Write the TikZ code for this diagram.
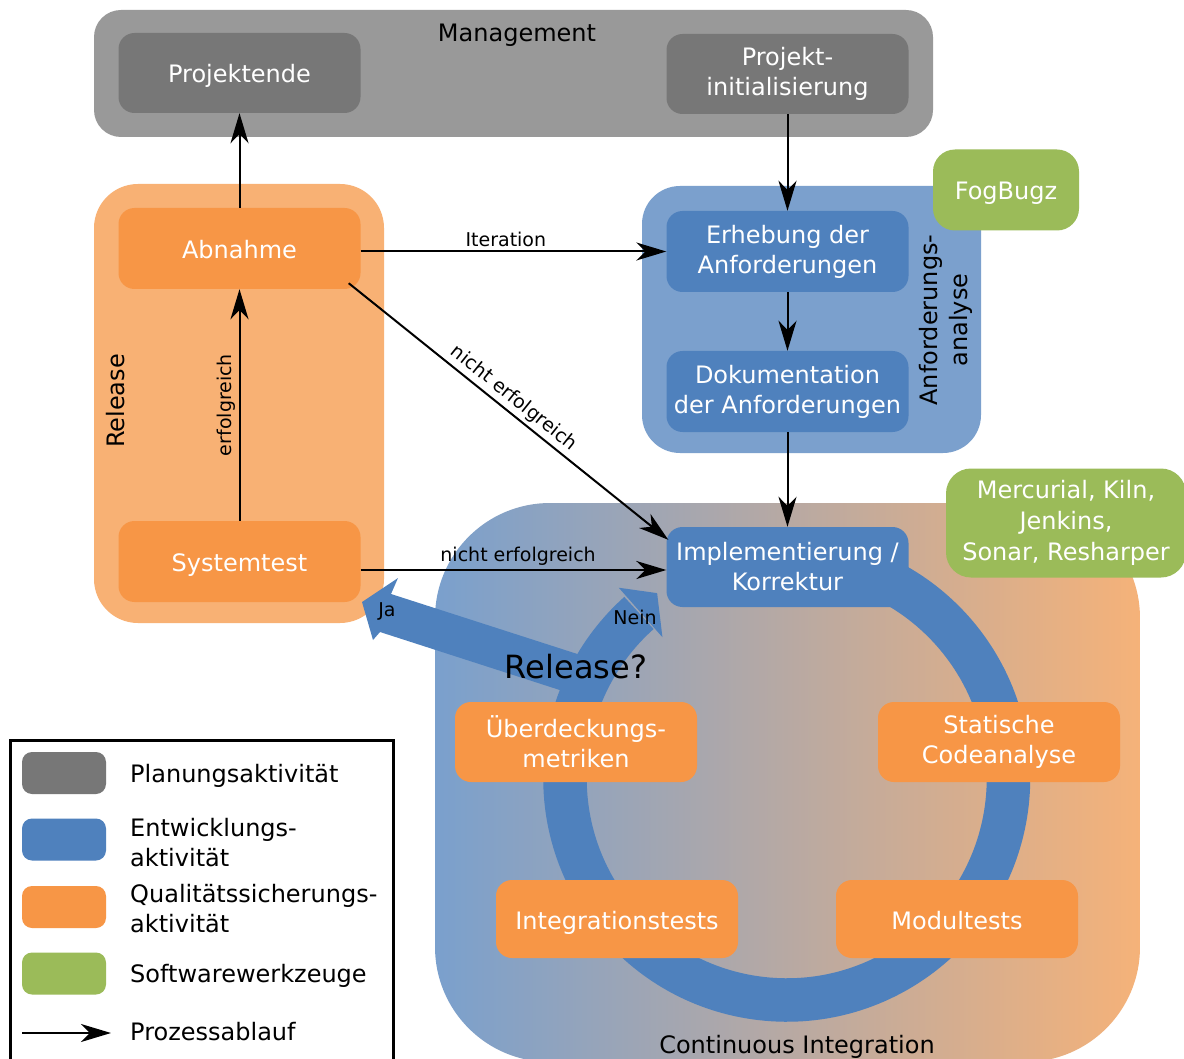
\documentclass[tikz,border=0pt]{standalone}
\usepackage{fontspec}
\setmainfont{DejaVu Sans}
\usetikzlibrary{arrows.meta,calc}
\definecolor{mgmtbg}{HTML}{999999}
\definecolor{graybox}{HTML}{777777}
\definecolor{relbg}{HTML}{F8B174}
\definecolor{orangebox}{HTML}{F79646}
\definecolor{anfbg}{HTML}{7BA0CD}
\definecolor{bluebox}{HTML}{4F81BD}
\definecolor{greenbox}{HTML}{9BBB59}
\definecolor{cileft}{HTML}{7AA0CD}
\definecolor{ciright}{HTML}{F5B279}
\begin{document}
\begin{tikzpicture}[x=1pt,y=1pt,
  box/.style={rounded corners=16pt, minimum width=242pt, minimum height=80pt, inner sep=0pt, text=white, align=center, font=\fontsize{24}{30}\selectfont},
  oneline/.style={text height=24pt, text depth=4pt},
  swatch/.style={rounded corners=10pt, minimum width=84pt, minimum height=42pt, inner sep=0pt},
  flow/.style={line width=2pt, -{Stealth[length=30pt,width=18pt,inset=9pt]}},
  lbl/.style={font=\fontsize{19}{23}\selectfont, text=black},
  big/.style={font=\fontsize{24}{30}\selectfont, text=black},
]
\useasboundingbox (0,0) rectangle (1184,-1059);
\clip (0,0) rectangle (1184,-1059);
\fill[white] (0,0) rectangle (1184,-1059);

% regions
\fill[mgmtbg, rounded corners=27pt] (94,-10) rectangle (933,-137);
\node[big] (mgmtlbl) at (517,-35) {Management};
\fill[relbg, rounded corners=44pt] (94,-184) rectangle (384,-623);
\fill[anfbg, rounded corners=38pt] (642,-186) rectangle (981,-453);
\path[left color=cileft, right color=ciright, rounded corners=115pt] (435,-503) rectangle (1140,-1062);

% ring and release arrows
\coordinate (rc) at (786.75,-778.25);
\draw[bluebox, line width=43.5pt] ($(rc)+(85:221.75pt)$) arc[start angle=85, end angle=-228.2, radius=221.75pt];
\fill[bluebox] ($(rc)+(131.4:254pt)$) -- ($(rc)+(125:226pt)$) -- ($(rc)+(131.4:188pt)$) -- cycle;
\fill[bluebox] (362,-602) -- (398,-578) -- (391,-594) -- (596,-660) -- (600,-703) -- (380,-632) -- (373,-640) -- cycle;

% boxes
\node[box, oneline, fill=graybox] (projende) at (239.5,-73) {Projektende};
\node[box, fill=graybox] (projinit) at (787.5,-74) {Projekt-\\initialisierung};
\node[box, oneline, fill=orangebox, minimum height=81pt] (abn) at (239.5,-248.5) {Abnahme};
\node[box, oneline, fill=orangebox, minimum height=81pt] (sys) at (239.5,-561.5) {Systemtest};
\node[box, fill=bluebox, minimum height=81pt] (erh) at (787.5,-251.5) {Erhebung der\\Anforderungen};
\node[box, fill=bluebox, minimum height=81pt] (dok) at (787.5,-391.5) {Dokumentation\\der Anforderungen};
\node[box, oneline, fill=greenbox, minimum width=146pt, minimum height=81pt, rounded corners=22pt] (fog) at (1006,-190) {FogBugz};
\node[box, fill=greenbox, minimum width=240pt, minimum height=109pt, rounded corners=25pt, font=\fontsize{24}{31}\selectfont] (merc) at (1066,-523) {Mercurial, Kiln,\\Jenkins,\\Sonar, Resharper};
\node[box, fill=bluebox] (impl) at (787.5,-567) {Implementierung /\\Korrektur};
\node[box, fill=orangebox] (ueb) at (576,-742) {Überdeckungs-\\metriken};
\node[box, fill=orangebox] (stat) at (999,-742) {Statische\\Codeanalyse};
\node[box, oneline, fill=orangebox, minimum height=78pt] (integ) at (617,-919) {Integrationstests};
\node[box, oneline, fill=orangebox, minimum height=78pt] (modul) at (957,-919) {Modultests};

% region labels
\node[big, rotate=90] (rellbl) at (116,-401) {Release};
\node[big, rotate=90, align=center] (anflbl) at (946,-320) {Anforderungs-\\analyse};
\node[font=\fontsize{32}{38}\selectfont] (relq) at (576,-667) {Release?};
\node[lbl] (ja) at (387,-611) {Ja};
\node[lbl] (nein) at (635,-617) {Nein};
\node[big] (cilbl) at (797,-1047) {Continuous Integration};

% process arrows
\draw[flow] (abn.north) -- (projende.south);
\draw[flow] (projinit.south) -- (erh.north);
\draw[flow] (abn.east |- erh.west) -- node[lbl, above, pos=0.475] {Iteration} (erh.west);
\draw[flow] (erh.south) -- (dok.north);
\draw[flow] (dok.south) -- (impl.north);
\draw[flow] ($(abn.south east)+(-12,6)$) -- node[lbl, sloped, above, pos=0.49] {nicht erfolgreich} ($(impl.north west)+(2,-13)$);
\draw[flow] ($(sys.east)+(0,-8.5)$) coordinate (s1) -- node[lbl, above, pos=0.515] {nicht erfolgreich} (s1 -| impl.west);
\draw[flow] (sys.north) -- node[lbl, sloped, above] {erfolgreich} (abn.south);

% legend
\draw[line width=3pt, fill=white] (10,-740) rectangle (393,-1075);
\node[swatch, fill=graybox] (lg1) at (64,-773) {};
\node[swatch, fill=bluebox] (lg2) at (64,-839.5) {};
\node[swatch, fill=orangebox] (lg3) at (64,-907) {};
\node[swatch, fill=greenbox] (lg4) at (64,-973.5) {};
\coordinate (la1) at (22,-1033);
\coordinate (la2) at (111,-1033);
\draw[flow] (la1) -- (la2);
\node[big, oneline, anchor=west, inner sep=0pt] (lt1) at (130,-772) {Planungsaktivität};
\node[big, anchor=west, inner sep=0pt, align=left] (lt2) at (130,-843) {Entwicklungs-\\aktivität};
\node[big, anchor=west, inner sep=0pt, align=left] (lt3) at (130,-909) {Qualitätssicherungs-\\aktivität};
\node[big, oneline, anchor=west, inner sep=0pt] (lt4) at (130,-972) {Softwarewerkzeuge};
\node[big, oneline, anchor=west, inner sep=0pt] (lt5) at (130,-1030) {Prozessablauf};
\end{tikzpicture}
\end{document}
